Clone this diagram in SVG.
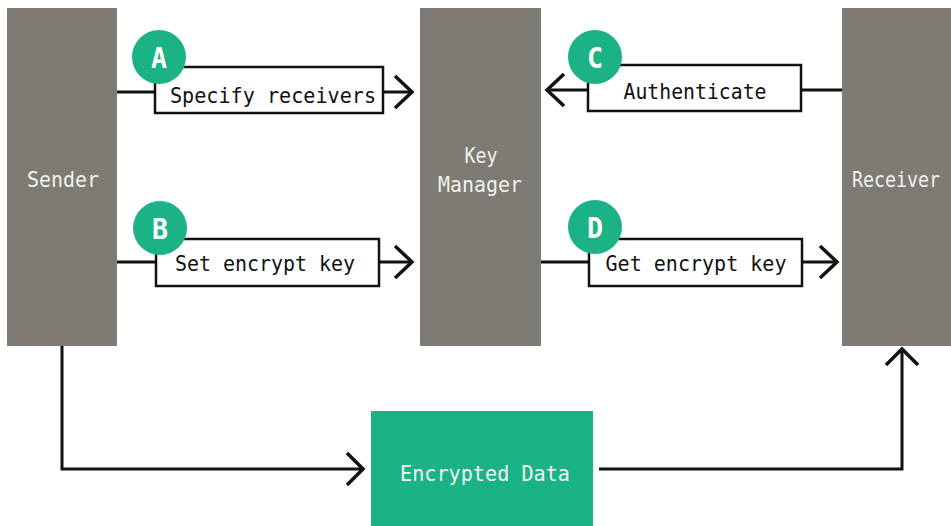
<svg xmlns="http://www.w3.org/2000/svg" width="951" height="526" viewBox="0 0 951 526">
  <style>
    .party { fill: #7d7b74; }
    .data { fill: #1bb386; }
    .plabel { font-family: "DejaVu Sans Mono", "Liberation Mono", monospace; font-size: 21px; fill: #f2f2ee; text-anchor: middle; }
    .step { fill: #ffffff; stroke: #111111; stroke-width: 2.5; }
    .slabel { font-family: "DejaVu Sans Mono", "Liberation Mono", monospace; font-size: 22px; fill: #111111; text-anchor: middle; }
    .badge { fill: #1bb386; }
    .blabel { font-family: "DejaVu Sans Mono", "Liberation Mono", monospace; font-size: 29px; font-weight: bold; fill: #ffffff; text-anchor: middle; }
    .wire { fill: none; stroke: #111111; stroke-width: 3; }
    .head { fill: none; stroke: #111111; stroke-width: 3.5; stroke-linecap: butt; stroke-linejoin: miter; }
  </style>

  <g id="sender">
    <rect class="party" x="7" y="8" width="110" height="338"/>
    <text class="plabel" x="63" y="187" textLength="72" lengthAdjust="spacingAndGlyphs">Sender</text>
  </g>

  <g id="key-manager">
    <rect class="party" x="420" y="8" width="121" height="338"/>
    <text class="plabel" x="481" y="163" textLength="33" lengthAdjust="spacingAndGlyphs">Key</text>
    <text class="plabel" x="480" y="192" textLength="84" lengthAdjust="spacingAndGlyphs">Manager</text>
  </g>

  <g id="receiver">
    <rect class="party" x="842" y="8" width="109" height="338"/>
    <text class="plabel" x="896" y="187" textLength="88" lengthAdjust="spacingAndGlyphs">Receiver</text>
  </g>

  <g id="encrypted-data">
    <rect class="data" x="371" y="411" width="222" height="115"/>
    <text class="plabel" x="485" y="481" textLength="170" lengthAdjust="spacingAndGlyphs">Encrypted Data</text>
  </g>

  <g id="connectors">
    <!-- A: sender to key manager -->
    <path class="wire" d="M117 92 H412"/>
    <path class="head" d="M395 76 L412 92 L395 108"/>
    <!-- B: sender to key manager -->
    <path class="wire" d="M117 262 H412"/>
    <path class="head" d="M395 246 L412 262 L395 278"/>
    <!-- C: receiver to key manager -->
    <path class="wire" d="M842 90 H547"/>
    <path class="head" d="M564 74 L547 90 L564 106"/>
    <!-- D: key manager to receiver -->
    <path class="wire" d="M541 262 H837"/>
    <path class="head" d="M820 246 L837 262 L820 278"/>
    <!-- data path: sender to encrypted data to receiver -->
    <path class="wire" d="M62 346 V469 H363"/>
    <path class="head" d="M347 453 L363 469 L347 485"/>
    <path class="wire" d="M599 469 H902 V349"/>
    <path class="head" d="M886 365 L902 349 L918 365"/>
  </g>

  <g id="step-a">
    <rect class="step" x="155" y="67" width="228" height="46"/>
    <text class="slabel" x="273" y="103" textLength="206" lengthAdjust="spacingAndGlyphs">Specify receivers</text>
    <circle class="badge" cx="159" cy="57" r="27"/>
    <text class="blabel" x="159" y="68" textLength="16" lengthAdjust="spacingAndGlyphs">A</text>
  </g>

  <g id="step-b">
    <rect class="step" x="156" y="239" width="223" height="47"/>
    <text class="slabel" x="265" y="271" textLength="180" lengthAdjust="spacingAndGlyphs">Set encrypt key</text>
    <circle class="badge" cx="160" cy="228" r="27"/>
    <text class="blabel" x="160" y="239" textLength="16" lengthAdjust="spacingAndGlyphs">B</text>
  </g>

  <g id="step-c">
    <rect class="step" x="588" y="65" width="213" height="46"/>
    <text class="slabel" x="695" y="99" textLength="143" lengthAdjust="spacingAndGlyphs">Authenticate</text>
    <circle class="badge" cx="595" cy="57" r="27"/>
    <text class="blabel" x="595" y="68" textLength="16" lengthAdjust="spacingAndGlyphs">C</text>
  </g>

  <g id="step-d">
    <rect class="step" x="589" y="239" width="213" height="47"/>
    <text class="slabel" x="696" y="271" textLength="181" lengthAdjust="spacingAndGlyphs">Get encrypt key</text>
    <circle class="badge" cx="595" cy="227" r="27"/>
    <text class="blabel" x="595" y="238" textLength="16" lengthAdjust="spacingAndGlyphs">D</text>
  </g>
</svg>
